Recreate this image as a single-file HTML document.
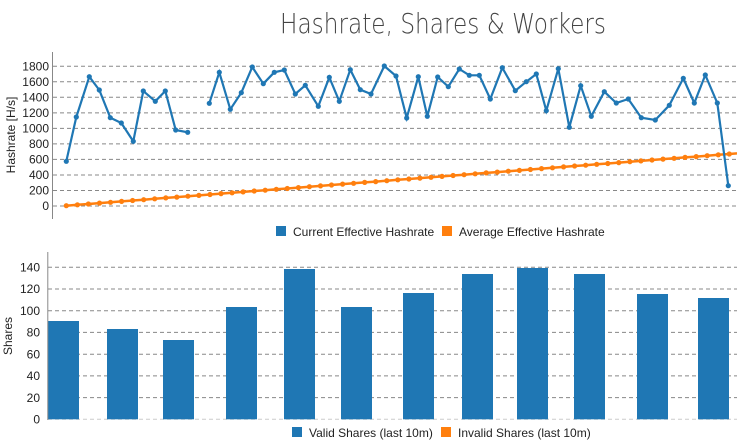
<!DOCTYPE html>
<html><head><meta charset="utf-8"><style>
html,body{margin:0;padding:0;background:#fff;}
svg{display:block;font-family:"Liberation Sans",Arial,sans-serif;}
</style></head><body>
<svg width="737" height="440" viewBox="0 0 737 440" xmlns="http://www.w3.org/2000/svg">
<defs>
<marker id="mb" markerWidth="6" markerHeight="6" refX="3" refY="3" markerUnits="userSpaceOnUse"><circle cx="3" cy="3" r="2.6" fill="#1f77b4"/></marker>
<marker id="mo" markerWidth="6" markerHeight="6" refX="3" refY="3" markerUnits="userSpaceOnUse"><circle cx="3" cy="3" r="2.6" fill="#ff7f0e"/></marker>
</defs>
<text x="443" y="33" text-anchor="middle" font-size="28" fill="#444" font-family="'DejaVu Sans','Liberation Sans',sans-serif" font-weight="300" textLength="326" lengthAdjust="spacingAndGlyphs">Hashrate, Shares &amp; Workers</text>
<!-- top grid -->
<g stroke="#888" stroke-dasharray="4,3" stroke-width="1">
<line x1="53" x2="737" y1="66.3" y2="66.3"/><line x1="53" x2="737" y1="81.8" y2="81.8"/><line x1="53" x2="737" y1="97.3" y2="97.3"/><line x1="53" x2="737" y1="112.9" y2="112.9"/><line x1="53" x2="737" y1="128.4" y2="128.4"/><line x1="53" x2="737" y1="143.9" y2="143.9"/><line x1="53" x2="737" y1="159.4" y2="159.4"/><line x1="53" x2="737" y1="175" y2="175"/><line x1="53" x2="737" y1="190.5" y2="190.5"/><line x1="53" x2="737" y1="206" y2="206"/>
</g>
<line x1="52.5" x2="52.5" y1="52" y2="219" stroke="#888"/>
<g font-size="12" fill="#222" text-anchor="end">
<text x="49" y="70.5">1800</text><text x="49" y="86">1600</text><text x="49" y="101.5">1400</text><text x="49" y="117">1200</text><text x="49" y="132.5">1000</text><text x="49" y="148">800</text><text x="49" y="163.5">600</text><text x="49" y="179">400</text><text x="49" y="194.5">200</text><text x="49" y="210">0</text>
</g>
<text transform="translate(15,135) rotate(-90)" text-anchor="middle" font-size="12" fill="#222">Hashrate [H/s]</text>
<polyline fill="none" stroke="#ff7f0e" stroke-width="2.5" marker-start="url(#mo)" marker-mid="url(#mo)" marker-end="url(#mo)" points="66.3,205.7 77.4,204.8 88.4,204 99.5,203.1 110.5,202.3 121.6,201.4 132.6,200.5 143.7,199.7 154.7,198.8 165.8,197.9 176.8,197.1 187.9,196.2 198.9,195.4 210,194.5 221,193.6 232.1,192.8 243.1,191.9 254.2,191 265.2,190.2 276.3,189.3 287.3,188.5 298.4,187.6 309.4,186.7 320.5,185.9 331.5,185 342.6,184.1 353.6,183.3 364.7,182.4 375.7,181.6 386.8,180.7 397.8,179.8 408.9,179 419.9,178.1 431,177.3 442,176.4 453.1,175.5 464.1,174.7 475.2,173.8 486.2,172.9 497.3,172.1 508.3,171.2 519.4,170.4 530.4,169.5 541.5,168.6 552.5,167.8 563.6,166.9 574.6,166 585.7,165.2 596.7,164.3 607.8,163.5 618.8,162.6 629.9,161.7 640.9,160.9 652,160 663,159.1 674.1,158.3 685.1,157.4 696.2,156.6 707.2,155.7 718.3,154.8 729.3,154"/>
<line x1="729.3" y1="154" x2="737" y2="153.4" stroke="#ff7f0e" stroke-width="2.5"/>
<polyline fill="none" stroke="#1f77b4" stroke-width="2.2" marker-start="url(#mb)" marker-mid="url(#mb)" marker-end="url(#mb)" points="66.3,161.3 76.3,117 89.3,76.7 99.3,90 110.3,117.7 121.3,123 133.3,141.3 143.3,91 155.3,101.3 165.3,91 175.7,130 187.7,132.3"/>
<polyline fill="none" stroke="#1f77b4" stroke-width="2.2" marker-start="url(#mb)" marker-mid="url(#mb)" marker-end="url(#mb)" points="209.3,103.3 219.3,72.3 230.3,109.3 241.3,92.7 252.3,67 263.3,83.7 274.3,72.3 284.3,70 295.3,94 305.3,85.3 318.3,106.3 329.3,77.3 339.3,101.3 350.3,69.7 360.3,89.7 371,94 384.3,66 396,76 406.7,118 418.3,76.7 427.3,116.3 437.7,77 448.3,86.7 459.3,69 469.3,75.3 479.3,75.3 490.3,99 502.3,67.7 515.3,90.7 526.3,81.7 536.3,74 546.3,110.7 558.3,68.7 569.3,127.3 580.7,85.7 591.3,116.3 604.3,91.7 616.3,103 628.3,99 641.3,117.7 655.3,120 669.3,105.3 683.3,78.3 694.3,103 705.3,75 717.3,103 728.3,185.7"/>
<rect x="276" y="226" width="10" height="10" fill="#1f77b4"/>
<text x="293" y="236" font-size="12" fill="#222">Current Effective Hashrate</text>
<rect x="442" y="226" width="10" height="10" fill="#ff7f0e"/>
<text x="459" y="236" font-size="12" fill="#222">Average Effective Hashrate</text>
<!-- bottom -->
<g stroke="#888" stroke-dasharray="4,3" stroke-width="1">
<line x1="48" x2="737" y1="267.3" y2="267.3"/><line x1="48" x2="737" y1="289" y2="289"/><line x1="48" x2="737" y1="310.7" y2="310.7"/><line x1="48" x2="737" y1="332.4" y2="332.4"/><line x1="48" x2="737" y1="354.2" y2="354.2"/><line x1="48" x2="737" y1="375.9" y2="375.9"/><line x1="48" x2="737" y1="397.6" y2="397.6"/>
</g>
<line x1="48" x2="737" y1="419.3" y2="419.3" stroke="#ccc" stroke-dasharray="4,3"/>
<g fill="#1f77b4">
<rect x="48" y="321" width="31" height="98.3"/>
<rect x="107" y="329" width="31" height="90.3"/>
<rect x="163" y="340" width="31" height="79.3"/>
<rect x="226" y="307" width="31" height="112.3"/>
<rect x="284" y="269" width="31" height="150.3"/>
<rect x="341" y="307" width="31" height="112.3"/>
<rect x="403" y="293" width="31" height="126.3"/>
<rect x="462" y="274" width="31" height="145.3"/>
<rect x="517" y="268" width="31" height="151.3"/>
<rect x="574" y="274" width="31" height="145.3"/>
<rect x="637" y="294" width="31" height="125.3"/>
<rect x="698" y="298" width="31" height="121.3"/>
</g>
<line x1="47.8" x2="47.8" y1="252" y2="420" stroke="#888"/>
<g font-size="12" fill="#222" text-anchor="end">
<text x="40" y="271.5">140</text><text x="40" y="293">120</text><text x="40" y="315">100</text><text x="40" y="336.5">80</text><text x="40" y="358.5">60</text><text x="40" y="380">40</text><text x="40" y="402">20</text><text x="40" y="423.5">0</text>
</g>
<text transform="translate(12,336) rotate(-90)" text-anchor="middle" font-size="12" fill="#222">Shares</text>
<rect x="292" y="427" width="10" height="10" fill="#1f77b4"/>
<text x="309" y="437" font-size="12" fill="#222">Valid Shares (last 10m)</text>
<rect x="441" y="427" width="10" height="10" fill="#ff7f0e"/>
<text x="458" y="437" font-size="12" fill="#222">Invalid Shares (last 10m)</text>
</svg>
</body></html>
